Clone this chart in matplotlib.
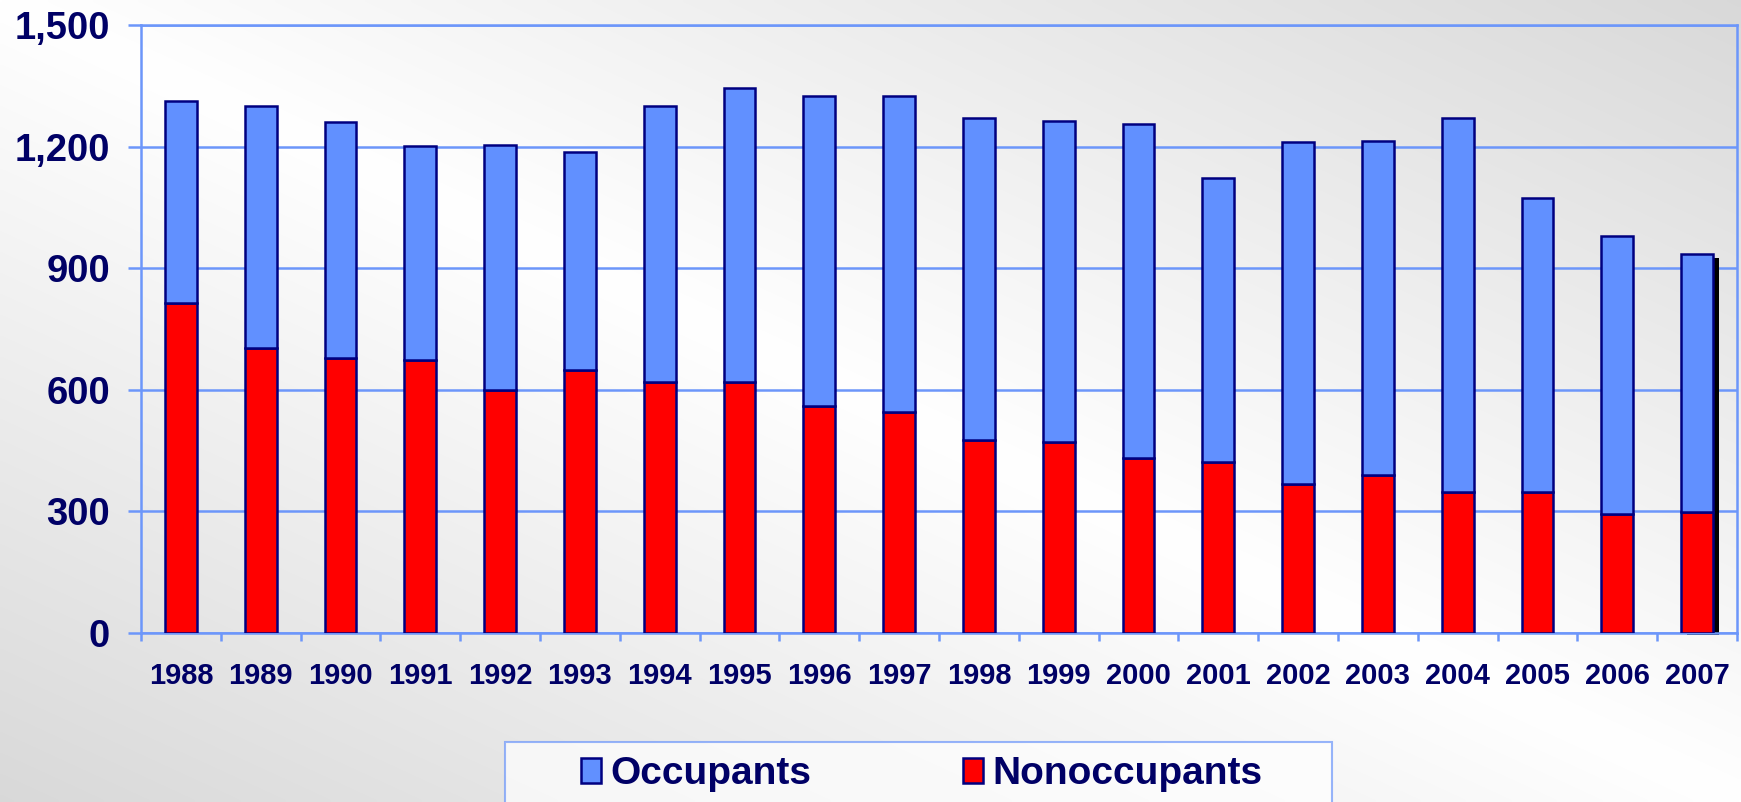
import numpy as np
import matplotlib
matplotlib.use("Agg")
import matplotlib.pyplot as plt
from matplotlib.patches import Rectangle
from matplotlib.ticker import FuncFormatter, FixedLocator

plt.rcParams['font.family'] = ['Liberation Sans', 'DejaVu Sans']

years = ['1988', '1989', '1990', '1991', '1992', '1993', '1994', '1995', '1996', '1997',
         '1998', '1999', '2000', '2001', '2002', '2003', '2004', '2005', '2006', '2007']
totals = [1313, 1299, 1260, 1201, 1205, 1186, 1299, 1344, 1324, 1324,
          1270, 1264, 1256, 1122, 1211, 1215, 1270, 1072, 979, 935]
nonoccupants = [813, 703, 679, 673, 600, 649, 619, 619, 559, 545,
                476, 471, 432, 422, 367, 391, 348, 348, 294, 298]
occupants = [t - n for t, n in zip(totals, nonoccupants)]
yticks = [0, 300, 600, 900, 1200, 1500]

NAVY = '#000066'
BLUE = '#6190FF'
RED = '#FF0000'
GRID = '#6C96FA'
EDGE = '#000080'

W, H = 1741, 802
fig = plt.figure(figsize=(W / 100, H / 100), dpi=100)

# soft gray-white diagonal backdrop
bg = fig.add_axes([0, 0, 1, 1], zorder=-10)
u = np.linspace(0, 1, 400)[None, :]
v = np.linspace(0, 1, 200)[:, None]
shade = 1.0 - 0.15 * np.abs(u - v)
bg.imshow(np.dstack([shade, shade, shade]), aspect='auto', extent=[0, 1, 0, 1],
          origin='upper', interpolation='bilinear')
bg.set_axis_off()

ax = fig.add_axes([141 / W, 1 - 633 / H, (1737 - 141) / W, (633 - 25) / H])
ax.set_facecolor('none')

x = np.arange(len(years))
bw = 0.4

# drop shadow behind the final year's stack
ax.bar(x[-1] + 0.075, totals[-1] - 5, bottom=-5, width=bw, color='black',
       zorder=1, clip_on=False)

b1 = ax.bar(x, nonoccupants, width=bw, color=RED, edgecolor=EDGE, linewidth=1.8,
            zorder=3, label='Nonoccupants')
b2 = ax.bar(x, occupants, bottom=nonoccupants, width=bw, color=BLUE, edgecolor=EDGE,
            linewidth=1.8, zorder=3, label='Occupants')

ax.set_xlim(-0.5, len(years) - 0.5)
ax.set_ylim(0, 1500)
ax.set_yticks(yticks)
ax.yaxis.set_major_formatter(FuncFormatter(lambda val, pos: f'{int(val):,}'))
ax.grid(axis='y', color=GRID, linewidth=1.8, zorder=0)
ax.set_axisbelow(True)

ax.set_xticks(x)
ax.set_xticklabels(years)
ax.xaxis.set_minor_locator(FixedLocator(np.arange(-0.5, len(years), 1.0)))
ax.tick_params(axis='x', which='major', length=0, pad=21,
               labelsize=21, labelcolor=NAVY)
ax.tick_params(axis='x', which='minor', length=6, width=1.8, color=GRID, direction='out')
ax.tick_params(axis='y', which='major', length=9.4, width=1.8, color=GRID,
               direction='out', pad=13, labelsize=27.5, labelcolor=NAVY)
for lab in ax.get_xticklabels() + ax.get_yticklabels():
    lab.set_fontweight('bold')

for side in ['left', 'right', 'bottom', 'top']:
    ax.spines[side].set_color(GRID)
    ax.spines[side].set_linewidth(1.8)

# legend frame running off the bottom edge
fig.patches.append(Rectangle((505 / W, -0.05), (1332 - 505) / W, 0.05 + (802 - 742) / H,
                             transform=fig.transFigure, facecolor='white', alpha=0.7,
                             edgecolor=GRID, linewidth=1.5, zorder=1))
leg = fig.legend([b2, b1], ['Occupants', 'Nonoccupants'], loc='center',
                 bbox_to_anchor=(922 / W, 1 - 774 / H), ncol=2, frameon=False,
                 prop={'weight': 'bold', 'size': 28}, handlelength=0.5,
                 handleheight=0.62, handletextpad=0.25, columnspacing=3.9)
for t in leg.get_texts():
    t.set_color(NAVY)

fig.savefig('out.png', dpi=100)
